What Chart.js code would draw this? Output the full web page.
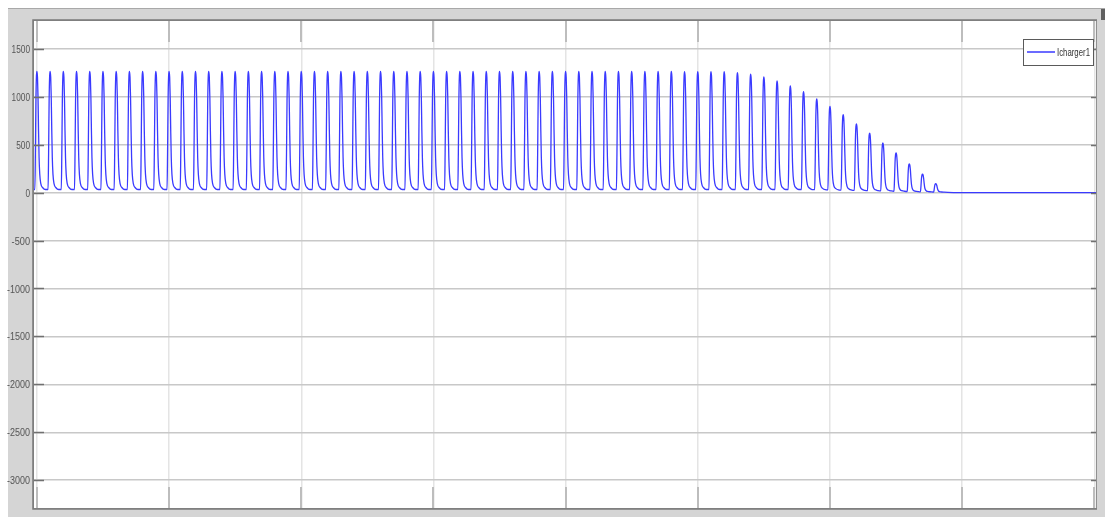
<!DOCTYPE html>
<html>
<head>
<meta charset="utf-8">
<script src="https://cdn.jsdelivr.net/npm/chart.js"></script>
<style>
    html, body { margin: 0; padding: 0; background: #ffffff; }
    #wrap { width: 1105px; height: 517px; position: relative; }
</style>
</head>
<body>
<div id="wrap"><canvas id="visualization"></canvas></div>
<script>
// one peak value per charging pulse (pulse k sits at t = k * 0.1)
const peaks = [
    1265, 1265, 1265, 1265, 1265, 1265, 1265, 1265, 1265, 1265,
    1265, 1265, 1265, 1265, 1265, 1265, 1265, 1265, 1265, 1265,
    1265, 1265, 1265, 1265, 1265, 1265, 1265, 1265, 1265, 1265,
    1265, 1265, 1265, 1265, 1265, 1265, 1265, 1265, 1265, 1265,
    1265, 1265, 1265, 1265, 1265, 1265, 1265, 1265, 1265, 1262,
    1262, 1262, 1262, 1252, 1234, 1207, 1166, 1114, 1052, 976,
    900, 814, 717, 621, 517, 414, 300, 193, 93
];
// level the trace settles to between pulses
const troughs = [
    32, 32, 32, 32, 32, 32, 32, 32, 32, 32,
    32, 32, 32, 32, 32, 32, 32, 32, 32, 32,
    32, 32, 32, 32, 32, 32, 32, 32, 32, 32,
    32, 32, 32, 32, 32, 32, 32, 32, 32, 32,
    32, 32, 32, 32, 32, 32, 32, 32, 32, 32,
    32, 32, 32, 32, 32, 32, 32, 32, 32, 30,
    28, 26, 23, 20, 17, 14, 11, 8, 5
];
// shape of one pulse: [time after onset, fraction of the peak]
const pulseShape = [
    [0, 0], [0.004, 0.3], [0.008, 0.75], [0.012, 0.96], [0.016, 1.0],
    [0.020, 0.95], [0.024, 0.78], [0.028, 0.5], [0.032, 0.27],
    [0.037, 0.13], [0.045, 0.05], [0.060, 0.015], [0.080, 0]
];
const pulsePeriod = 0.1;
const restLevel = 0;
const xTicks = [0, 1, 2, 3, 4, 5, 6, 7, 8];
const yTicks = [1500, 1000, 500, 0, -500, -1000, -1500, -2000, -2500, -3000];
const seriesLabel = 'Icharger1';

const X_MIN = -0.03, X_MAX = 8.02;
const LINE_BLUE = '#3a3aff';
const NARROW = '11px "Liberation Sans", Arial, sans-serif';

function build_points() {
    let pts = [{x: X_MIN, y: troughs[0]}];
    peaks.forEach((p, k) => {
        const onset = k * pulsePeriod - 0.016;
        const base = troughs[k];
        pulseShape.forEach((s) => {
            const t = onset + s[0];
            if (t < X_MIN) return;
            pts.push({x: t, y: base + s[1] * (p - base)});
        });
    });
    const last = pts[pts.length - 1];
    pts.push({x: last.x + 0.1, y: restLevel});
    pts.push({x: X_MAX, y: restLevel});
    return pts;
}

const frame = {
    id: 'frame',
    beforeDraw(chart) {
        const ctx = chart.ctx;
        const a = chart.chartArea;
        ctx.save();
        ctx.fillStyle = '#ffffff';
        ctx.fillRect(0, 0, chart.width, chart.height);
        ctx.fillStyle = '#d5d5d5';
        ctx.fillRect(8, 8, chart.width - 8, chart.height - 8);
        ctx.fillStyle = '#a8a8a8';
        ctx.fillRect(8, 8, chart.width - 8, 1);
        ctx.fillStyle = '#606060';
        ctx.fillRect(1101, 9, 4, 11);
        ctx.fillStyle = '#ffffff';
        ctx.fillRect(a.left, a.top, a.right - a.left, a.bottom - a.top);
        ctx.restore();
    },
    afterDatasetsDraw(chart) {
        const ctx = chart.ctx;
        const a = chart.chartArea;
        const xs = chart.scales.x, ys = chart.scales.y;
        ctx.save();
        // y labels, squeezed like the original narrow font
        ctx.fillStyle = '#555555';
        ctx.font = NARROW;
        ctx.textAlign = 'right';
        ctx.textBaseline = 'middle';
        yTicks.forEach((v) => {
            const s = String(v);
            ctx.fillText(s, a.left - 3, ys.getPixelForValue(v) + 1, s.length * 4.6);
        });
        // inner tick marks
        ctx.strokeStyle = '#707070';
        ctx.lineWidth = 1.5;
        yTicks.forEach((v) => {
            const py = Math.round(ys.getPixelForValue(v)) + 0.5;
            ctx.beginPath();
            ctx.moveTo(a.left, py); ctx.lineTo(a.left + 11, py);
            ctx.moveTo(a.right, py); ctx.lineTo(a.right - 6, py);
            ctx.stroke();
        });
        ctx.strokeStyle = '#bdbdbd';
        ctx.lineWidth = 2;
        xTicks.forEach((v) => {
            const px = Math.round(xs.getPixelForValue(v));
            ctx.beginPath();
            ctx.moveTo(px, a.bottom); ctx.lineTo(px, a.bottom - 22);
            ctx.moveTo(px, a.top); ctx.lineTo(px, a.top + 22);
            ctx.stroke();
        });
        // box
        ctx.strokeStyle = '#909090';
        ctx.lineWidth = 1;
        ctx.strokeRect(a.left + 0.5, a.top + 0.5, a.right - a.left - 1, a.bottom - a.top - 1);
        ctx.strokeStyle = '#7a7a7a';
        ctx.lineWidth = 1.5;
        ctx.beginPath();
        ctx.moveTo(a.right, a.top); ctx.lineTo(a.left, a.top);
        ctx.lineTo(a.left, a.bottom); ctx.lineTo(a.right, a.bottom);
        ctx.stroke();

        // legend
        const lx = 1023, ly = 39, lw = 70, lh = 26;
        ctx.fillStyle = '#ffffff';
        ctx.fillRect(lx, ly, lw, lh);
        ctx.strokeStyle = '#5a5a5a';
        ctx.lineWidth = 1;
        ctx.strokeRect(lx + 0.5, ly + 0.5, lw, lh);
        ctx.strokeStyle = LINE_BLUE;
        ctx.lineWidth = 1.5;
        ctx.beginPath();
        ctx.moveTo(lx + 4, ly + 13); ctx.lineTo(lx + 32, ly + 13);
        ctx.stroke();
        ctx.fillStyle = '#333333';
        ctx.font = NARROW;
        ctx.textAlign = 'left';
        ctx.textBaseline = 'middle';
        ctx.fillText(chart.data.datasets[0].label, lx + 34, ly + 14, 33);
        ctx.restore();
    }
};

function create_chart(ele) {
    const data = {
        datasets: [
            {
                label: seriesLabel,
                borderColor: LINE_BLUE,
                backgroundColor: LINE_BLUE,
                borderWidth: 1.3,
                data: build_points(),
                pointRadius: 0,
                cubicInterpolationMode: 'monotone',
            },
        ]
    };
    const config = {
        type: 'line',
        data: data,
        options: {
            responsive: true,
            maintainAspectRatio: false,
            animation: false,
            layout: { padding: { top: 20, right: 8, bottom: 8, left: 0 } },
            scales: {
                x: {
                    type: 'linear',
                    min: X_MIN,
                    max: X_MAX,
                    afterBuildTicks: (s) => { s.ticks = xTicks.map((v) => ({value: v})); },
                    afterFit: (s) => { s.height = 0; },
                    ticks: { display: false },
                    grid: { color: '#e4e4e4', lineWidth: 1.5, drawTicks: false },
                    border: { display: false },
                },
                y: {
                    min: -3300,
                    max: 1800,
                    afterBuildTicks: (s) => { s.ticks = yTicks.map((v) => ({value: v})); },
                    afterFit: (s) => { s.width = 33; },
                    ticks: { display: false },
                    grid: { color: '#c8c8c8', lineWidth: 1.5, drawTicks: false },
                    border: { display: false },
                }
            },
            plugins: {
                legend: { display: false },
                tooltip: { enabled: false },
            },
        },
        plugins: [frame],
    };
    return new Chart(ele, config);
}

create_chart(document.getElementById('visualization'));
</script>
</body>
</html>
